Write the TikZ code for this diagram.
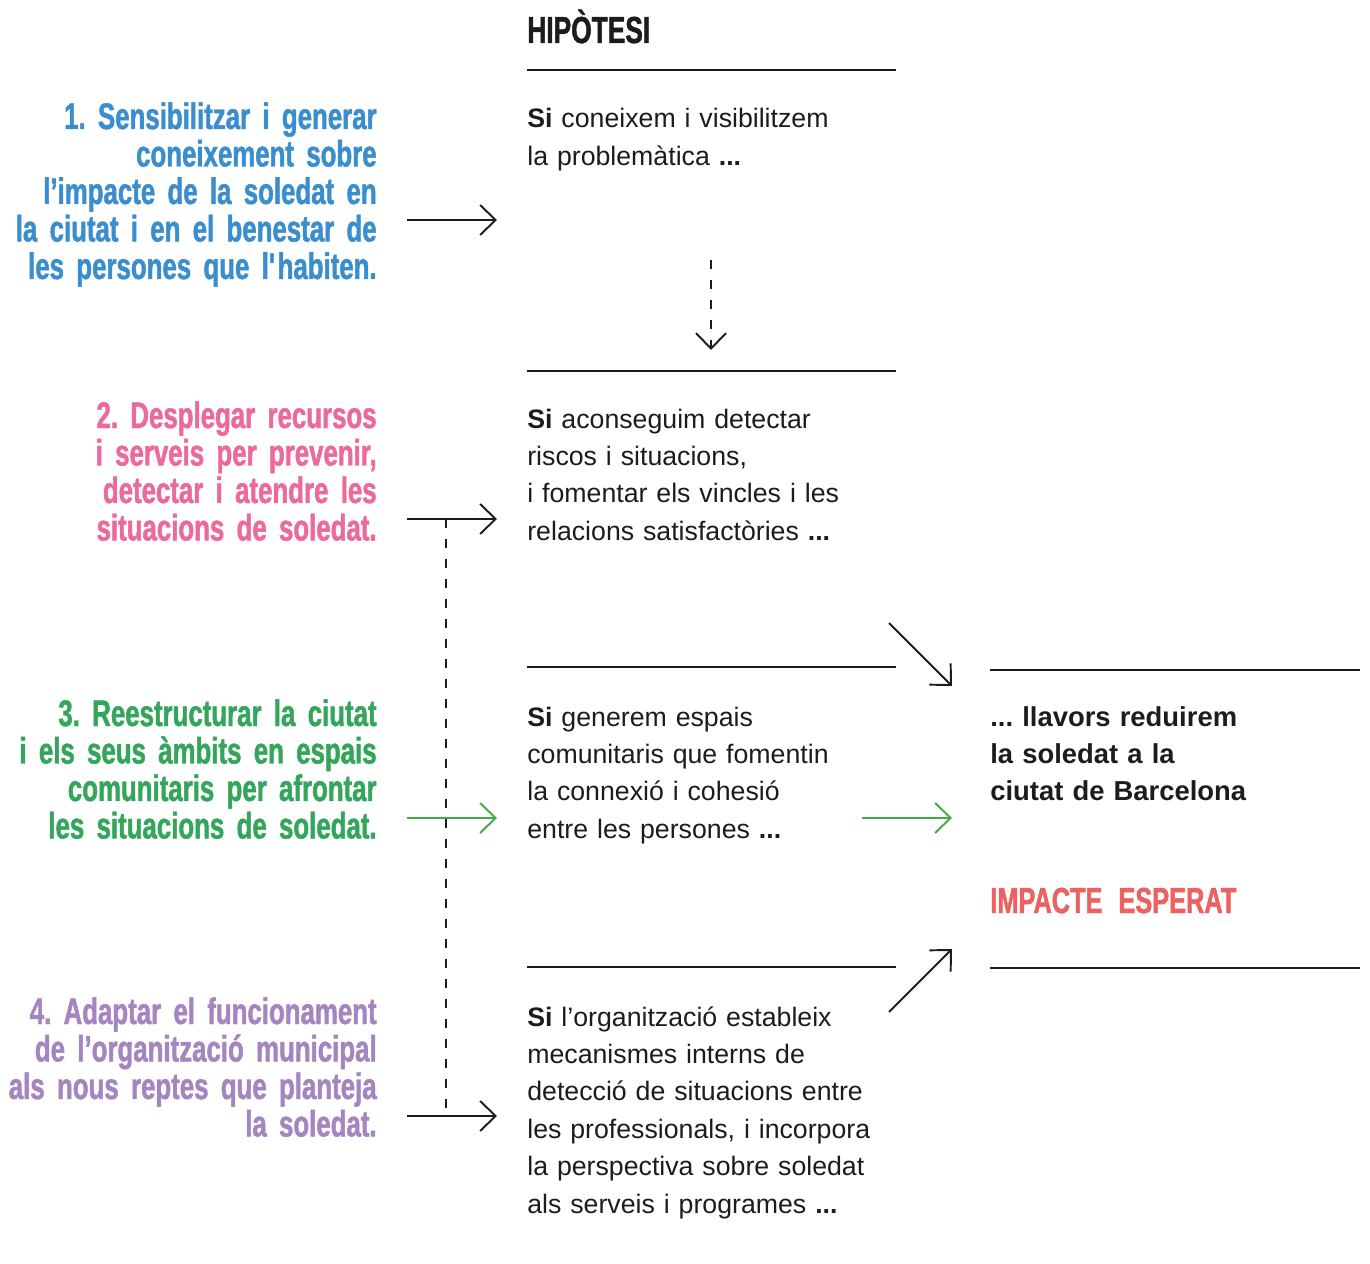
\documentclass[tikz,border=0pt]{standalone}
\usepackage{fontspec}
\setmainfont{Liberation Sans}
\newfontfamily\condfont[FakeStretch=0.7,WordSpace=0.45,FakeBold=1.3]{Liberation Sans}
\usetikzlibrary{arrows.meta}
\definecolor{ink}{RGB}{28,28,28}
\definecolor{objblue}{RGB}{58,142,206}
\definecolor{objpink}{RGB}{236,106,154}
\definecolor{objgreen}{RGB}{52,166,92}
\definecolor{arrgreen}{RGB}{62,172,66}
\definecolor{objpurple}{RGB}{165,133,191}
\definecolor{impred}{RGB}{236,98,98}
\frenchspacing

\begin{document}
\begin{tikzpicture}[x=0.02cm,y=-0.02cm,every node/.style={inner sep=0pt},
  goal/.style={font=\condfont\bfseries\fontsize{21pt}{21.34pt}\selectfont,text width=7.6cm,align=right,anchor=base east},
  hypo/.style={font=\fontsize{15.2pt}{21.34pt}\selectfont,text=ink,text width=7.4cm,align=left,anchor=base west},
  heading/.style={font=\condfont\bfseries\fontsize{21.4pt}{21.34pt}\selectfont,text=ink,anchor=base west},
  rule/.style={ink,line width=1.1pt},
  link/.style={ink,line width=1.1pt,-{Straight Barb[length=0.31cm,width=0.6cm]}},
  dashlink/.style={link,dash pattern=on 0.18cm off 0.22cm}]

\useasboundingbox (0,0) rectangle (1370,1264);

% column titles
\node[heading] (title) at (527,43) {HIPÒTESI};
\draw[rule] (527,70) -- (896,70);

% objectives
\node[goal,text=objblue] (goal1) at (377,129) {1. Sensibilitzar i generar\\ coneixement sobre\\ l’impacte de la soledat en\\ la ciutat i en el benestar de\\ les persones que l\textquotesingle habiten.};
\node[goal,text=objpink] (goal2) at (377,428) {2. Desplegar recursos\\ i serveis per prevenir,\\ detectar i atendre les\\ situacions de soledat.};
\node[goal,text=objgreen] (goal3) at (377,726) {3. Reestructurar la ciutat\\ i els seus àmbits en espais\\ comunitaris per afrontar\\ les situacions de soledat.};
\node[goal,text=objpurple] (goal4) at (377,1024) {4. Adaptar el funcionament\\ de l’organització municipal\\ als nous reptes que planteja\\ la soledat.};

% hypotheses
\node[hypo] (hyp1) at (527,128) {\textbf{Si} coneixem i visibilitzem\\ la problemàtica \textbf{...}};
\draw[rule] (527,371) -- (896,371);
\node[hypo] (hyp2) at (527,428) {\textbf{Si} aconseguim detectar\\ riscos i situacions,\\ i fomentar els vincles i les\\ relacions satisfactòries \textbf{...}};
\draw[rule] (527,667) -- (896,667);
\node[hypo] (hyp3) at (527,726) {\textbf{Si} generem espais\\ comunitaris que fomentin\\ la connexió i cohesió\\ entre les persones \textbf{...}};
\draw[rule] (527,967) -- (896,967);
\node[hypo] (hyp4) at (527,1026) {\textbf{Si} l’organització estableix\\ mecanismes interns de\\ detecció de situacions entre\\ les professionals, i incorpora\\ la perspectiva sobre soledat\\ als serveis i programes \textbf{...}};

% expected impact
\draw[rule] (990,670) -- (1360,670);
\node[hypo,font=\bfseries\fontsize{15.6pt}{21.34pt}\selectfont] (result) at (990,726) {... llavors reduirem\\ la soledat a la\\ ciutat de Barcelona};
\node[heading,text=impred,font=\condfont\bfseries\fontsize{20.6pt}{21.34pt}\selectfont] (impact) at (990,913) {IMPACTE\hspace{0.32cm}ESPERAT};
\draw[rule] (990,968) -- (1360,968);

% arrows
\coordinate (from1) at (407,220); \coordinate (to1) at (497,220);
\coordinate (from2) at (407,519); \coordinate (to2) at (497,519);
\coordinate (from3) at (407,818); \coordinate (to3) at (497,818);
\coordinate (from4) at (407,1116); \coordinate (to4) at (497,1116);
\coordinate (join2) at (446,519); \coordinate (join4) at (446,1116);
\coordinate (down1) at (711,260); \coordinate (down2) at (711,350);
\coordinate (mid3) at (862,818); \coordinate (res3) at (952,818);
\coordinate (mid2) at (889,623); \coordinate (res2) at (952,686);
\coordinate (mid4) at (889,1012); \coordinate (res4) at (952,949);

\draw[link] (from1) -- (to1);
\draw[link] (from2) -- (to2);
\draw[link,arrgreen] (from3) -- (to3);
\draw[link] (from4) -- (to4);
\draw[rule,dash pattern=on 0.18cm off 0.22cm] (join2) -- (join4);
\draw[dashlink] (down1) -- (down2);
\draw[link,arrgreen] (mid3) -- (res3);
\draw[link] (mid2) -- (res2);
\draw[link] (mid4) -- (res4);
\end{tikzpicture}
\end{document}
